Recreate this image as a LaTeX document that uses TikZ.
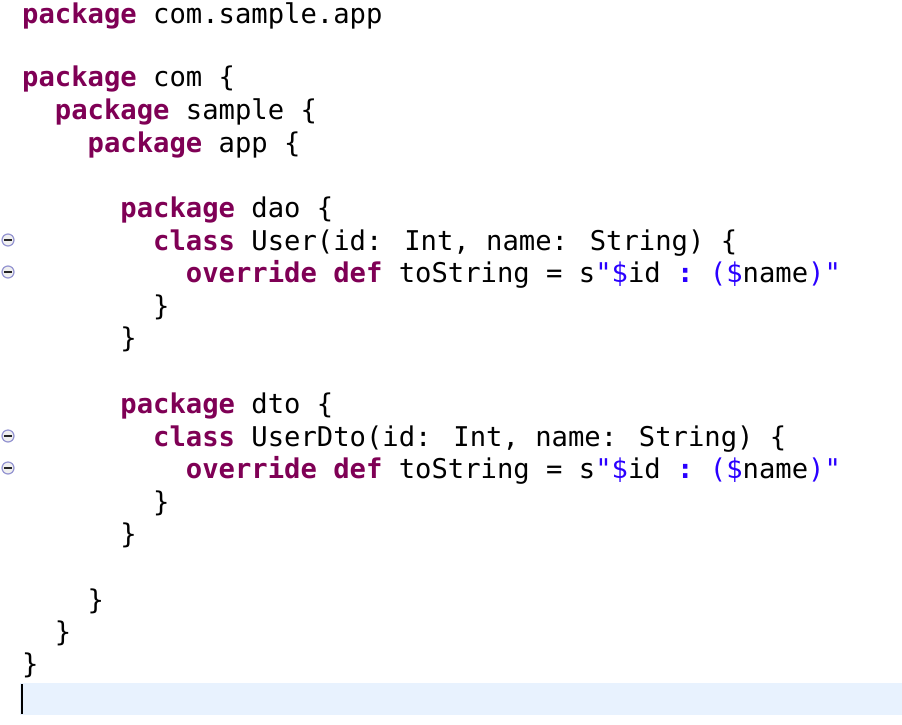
\documentclass[tikz,border=0pt]{standalone}
\usepackage{fontspec}
\newfontfamily\codefont{DejaVu Sans Mono}
\definecolor{kw}{HTML}{7F0055}
\definecolor{st}{HTML}{2A00FF}
\definecolor{hl}{HTML}{E8F2FE}
\newcommand{\kw}[1]{\textcolor{kw}{\bfseries #1}}
\newcommand{\st}[1]{\textcolor{st}{#1}}
\begin{document}
\begin{tikzpicture}[x=1pt,y=-1pt,
  ln/.style={anchor=base west,inner sep=0pt,font=\codefont\fontsize{27.2}{30}\selectfont},
  fold/.style={circle,draw=gray!60!blue!60,fill=gray!12,line width=1.2pt,minimum size=12pt,inner sep=0pt}]
\useasboundingbox (0,0) rectangle (902,724);
\fill[hl] (20,683) rectangle (902,715);
\fill[black] (20.5,684) rectangle (23,714);
\node[ln] (l1) at (22,23) {\kw{package} com.sample.app};
\node[ln] (l3) at (22,86) {\kw{package} com \{};
\node[ln] (l4) at (22,119) {\ \ \kw{package} sample \{};
\node[ln] (l5) at (22,152) {\ \ \ \ \kw{package} app \{};
\node[ln] (l7) at (22,217) {\ \ \ \ \ \ \kw{package} dao \{};
\node[ln] (l8) at (22,250) {\ \ \ \ \ \ \ \ \kw{class} User(id: Int, name: String) \{};
\node[ln] (l9) at (22,282) {\ \ \ \ \ \ \ \ \ \ \kw{override} \kw{def} toString = s\st{"\$}id\st{\ \textbf{:}\ (\$}name\st{)"}};
\node[ln] (l10) at (22,315) {\ \ \ \ \ \ \ \ \}};
\node[ln] (l11) at (22,347) {\ \ \ \ \ \ \}};
\node[ln] (l13) at (22,413) {\ \ \ \ \ \ \kw{package} dto \{};
\node[ln] (l14) at (22,446) {\ \ \ \ \ \ \ \ \kw{class} UserDto(id: Int, name: String) \{};
\node[ln] (l15) at (22,478) {\ \ \ \ \ \ \ \ \ \ \kw{override} \kw{def} toString = s\st{"\$}id\st{\ \textbf{:}\ (\$}name\st{)"}};
\node[ln] (l16) at (22,511) {\ \ \ \ \ \ \ \ \}};
\node[ln] (l17) at (22,543) {\ \ \ \ \ \ \}};
\node[ln] (l19) at (22,609) {\ \ \ \ \}};
\node[ln] (l20) at (22,641) {\ \ \}};
\node[ln] (l21) at (22,673) {\}};
\foreach \yy/\nm in {240/f1,272/f2,436/f3,468/f4}{
  \node[fold] (\nm) at (8,\yy) {};
  \draw[line width=1.5pt,gray!30!black] (4,\yy) -- (12,\yy);
}
\end{tikzpicture}
\end{document}
